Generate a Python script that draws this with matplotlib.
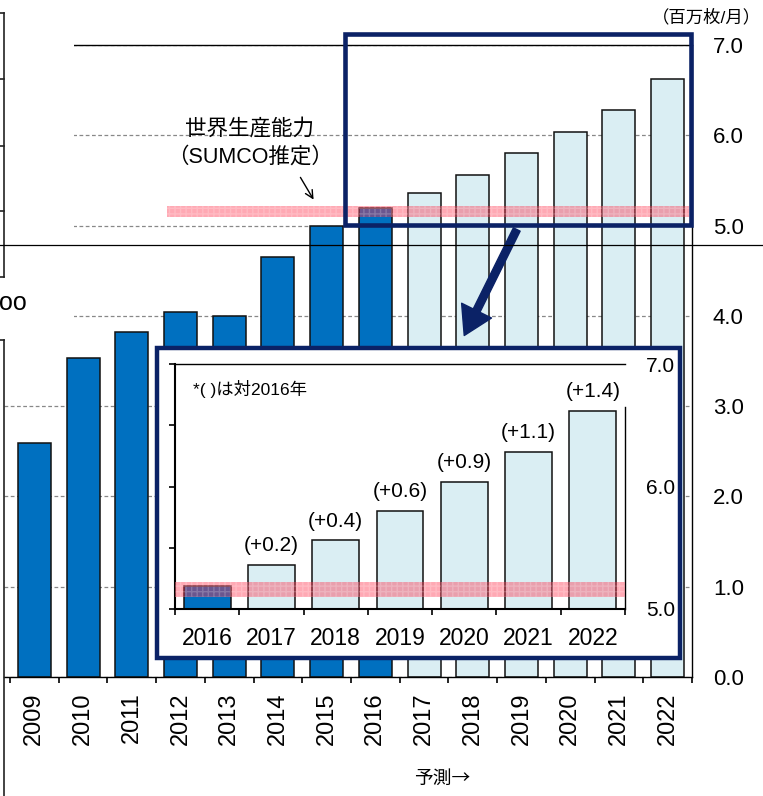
import numpy as np
import matplotlib
matplotlib.use("Agg")
import matplotlib.pyplot as plt
from matplotlib.patches import Rectangle, FancyArrowPatch
from matplotlib.lines import Line2D

# world silicon wafer demand, million wafers / month (300mm equiv.)
years = ["2009", "2010", "2011", "2012", "2013", "2014", "2015",
         "2016", "2017", "2018", "2019", "2020", "2021", "2022"]
demand = [2.59, 3.53, 3.82, 4.04, 4.00, 4.65, 4.99,
          5.19, 5.36, 5.56, 5.80, 6.04, 6.28, 6.62]
first_forecast = "2017"
main_yticks = [0.0, 1.0, 2.0, 3.0, 4.0, 5.0, 6.0, 7.0]

# zoomed part (2016 onwards) and the change vs 2016
zoom_from = "2016"
zoom_deltas = ["", "(+0.2)", "(+0.4)", "(+0.6)", "(+0.9)", "(+1.1)", "(+1.4)"]
zoom_yticks = [5.0, 5.5, 6.0, 6.5, 7.0]
zoom_yticklabels = ["5.0", "", "6.0", "", "7.0"]

# SUMCO estimate of world production capacity
cap_lo, cap_hi = 5.10, 5.22

DARK = "#0070C0"
LIGHT = "#DAEEF3"
NAVY = "#0B2266"
BAND = (1.0, 0.2, 0.3, 0.42)
BAND_HATCH = (1.0, 1.0, 1.0, 0.2)

W, H = 763, 796
plt.rcParams["font.family"] = ["Liberation Sans", "Noto Sans CJK JP", "DejaVu Sans"]
CJK = ["Noto Sans CJK JP", "Liberation Sans"]


def fx(px):
    return px / W


def fy(py):
    return 1 - py / H


fig = plt.figure(figsize=(W / 100, H / 100), dpi=100)

# ---- main chart
ax = fig.add_axes([fx(4), fy(677), fx(692) - fx(4), fy(45) - fy(677)])
x = np.arange(len(years))
colors = [DARK if int(y) < int(first_forecast) else LIGHT for y in years]
ax.bar(x, demand, width=0.68, color=colors, edgecolor="#111111", linewidth=1.1, zorder=2)
ax.fill_between([2.72, 13.44], cap_lo, cap_hi, facecolor=BAND, edgecolor=BAND_HATCH,
                hatch="+++", linewidth=0, zorder=3)
ax.set_xlim(-0.5 - 6 / 48.7, len(years) - 0.5)
ax.set_ylim(0, 7)
ax.set_xticks(x)
ax.set_xticklabels(years, rotation=90, fontsize=17)
ax.set_xticks(np.arange(len(years) + 1) - 0.5, minor=True)
ax.tick_params(axis="x", which="major", length=0, pad=11)
ax.tick_params(axis="x", which="minor", length=4.5, width=1.2, direction="out")
ax.yaxis.tick_right()
ax.set_yticks(main_yticks)
ax.set_yticklabels([f"{v:.1f}" for v in main_yticks], fontsize=16)
ax.tick_params(axis="y", which="both", length=0, pad=15)
ax.grid(axis="y", color="#888888", linestyle=(0, (3, 2)), linewidth=0.9)
ax.set_axisbelow(True)
ax.spines["left"].set_visible(False)
for s in ["top", "right", "bottom"]:
    ax.spines[s].set_linewidth(1.0)

# ---- zoomed inset
k = years.index(zoom_from)
zx = np.arange(len(years) - k)
zbox = Rectangle((fx(157), fy(658)), fx(680) - fx(157), fy(348) - fy(658),
                 transform=fig.transFigure, facecolor="white", edgecolor=NAVY,
                 linewidth=3.2, zorder=6)
fig.add_artist(zbox)

axi = fig.add_axes([fx(175), fy(609), fx(625) - fx(175), fy(364) - fy(609)])
axi.set_zorder(7)
axi.bar(zx, demand[k:], width=0.73, color=colors[k:], edgecolor="#111111", linewidth=1.1, zorder=2)
axi.axhspan(cap_lo, cap_hi, facecolor=BAND, edgecolor=BAND_HATCH, hatch="+++",
            linewidth=0, zorder=3)
for i, lab in enumerate(zoom_deltas):
    if lab:
        axi.text(zx[i], demand[k + i] + 0.08, lab, ha="center", va="bottom", fontsize=15)
axi.text(0.04, 0.9, "*( )は対2016年", transform=axi.transAxes, fontsize=12.5,
         ha="left", va="center")
axi.set_xlim(-0.5, len(zx) - 0.5)
axi.set_ylim(5, 7)
axi.set_xticks(zx)
axi.set_xticklabels(years[k:], fontsize=16.5)
axi.set_xticks(np.arange(len(zx) + 1) - 0.5, minor=True)
axi.tick_params(axis="x", which="major", length=0, pad=13)
axi.tick_params(axis="x", which="minor", length=4, width=1.2, direction="out")
axi.set_yticks(zoom_yticks)
axi.set_yticklabels(zoom_yticklabels, fontsize=15)
axi.tick_params(axis="y", left=True, right=False, labelleft=False, labelright=True,
                length=4, width=1.2, pad=11, direction="out")
axi.spines["left"].set_linewidth(1.5)
axi.spines["bottom"].set_linewidth(1.5)
axi.spines["top"].set_linewidth(1.0)
axi.spines["right"].set_linewidth(1.0)
axi.spines["right"].set_bounds(5, 6.65)

# ---- highlight box and arrow
fig.add_artist(Rectangle((fx(345), fy(225)), fx(691) - fx(345), fy(34) - fy(225),
                         transform=fig.transFigure, fill=False, edgecolor=NAVY,
                         linewidth=3.3, zorder=4))
fig.add_artist(FancyArrowPatch((fx(518), fy(227)), (fx(463), fy(338)),
                               transform=fig.transFigure,
                               arrowstyle="simple,head_length=1.0,head_width=1.2,tail_width=0.27",
                               mutation_scale=20, color=NAVY, zorder=8))

# ---- annotations
fig.text(fx(249.5), fy(129.5), "世界生産能力", fontsize=15.5, ha="center", va="center")
fig.text(fx(250), fy(157), "（SUMCO推定）", fontsize=15.5, ha="center", va="center")
fig.add_artist(FancyArrowPatch((fx(299), fy(175)), (fx(315), fy(202)),
                               transform=fig.transFigure, arrowstyle="->",
                               mutation_scale=14, color="black", linewidth=1.0, zorder=5))
fig.text(fx(706), fy(17), "（百万枚/月）", fontsize=12.5, ha="center", va="center")
fig.text(fx(442), fy(778), "予測→", fontsize=13.5, ha="center", va="center", family=CJK)

# ---- bits of the neighbouring chart on the slide
fig.add_artist(Rectangle((0, fy(335)), fx(74), 1 - fy(335), transform=fig.transFigure,
                         facecolor="white", edgecolor="none", zorder=10))
fig.add_artist(Line2D([fx(4), fx(4)], [fy(13), fy(277)], color="#222222", linewidth=1.2, zorder=11))
for ty in [13, 79, 146, 211, 277]:
    fig.add_artist(Line2D([0, fx(4)], [fy(ty), fy(ty)], color="#222222", linewidth=1.2, zorder=11))
fig.add_artist(Line2D([fx(4), fx(4)], [fy(340), 0], color="#222222", linewidth=1.2, zorder=11))
fig.add_artist(Line2D([0, fx(4)], [fy(340), fy(340)], color="#222222", linewidth=1.2, zorder=11))
fig.add_artist(Line2D([0, 1], [fy(245), fy(245)], color="black", linewidth=0.9, zorder=11))
fig.text(fx(27), fy(310), "oo", fontsize=18, ha="right", va="baseline", zorder=12)

fig.savefig("out.png", dpi=100)
